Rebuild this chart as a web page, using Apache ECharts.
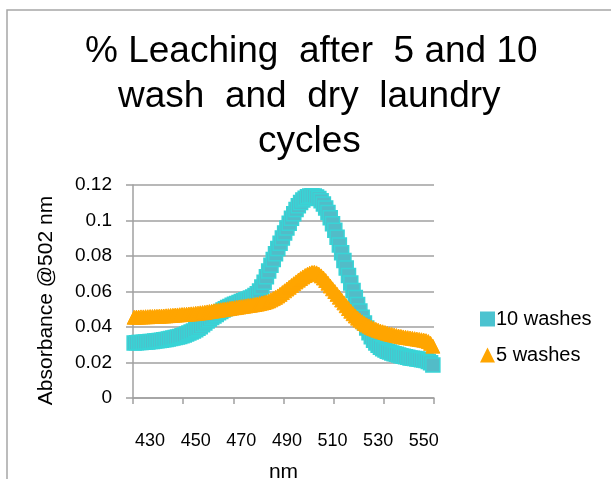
<!DOCTYPE html>
<html>
<head>
<meta charset="utf-8">
<script src="https://cdn.jsdelivr.net/npm/echarts@6/dist/echarts.min.js"></script>
<style>html,body{margin:0;padding:0;background:#fff}#c{width:611px;height:479px}</style>
</head>
<body>
<div id="c"></div>
<script>
const titleLines = ['% Leaching  after  5 and 10', 'wash  and  dry  laundry', 'cycles'];
const seriesNames = ['10 washes', '5 washes'];
const categories = ['423','424','425','426','427','428','429','430','431','432','433','434','435','436','437','438','439','440','441','442','443','444','445','446','447','448','449','450','451','452','453','454','455','456','457','458','459','460','461','462','463','464','465','466','467','468','469','470','471','472','473','474','475','476','477','478','479','480','481','482','483','484','485','486','487','488','489','490','491','492','493','494','495','496','497','498','499','500','501','502','503','504','505','506','507','508','509','510','511','512','513','514','515','516','517','518','519','520','521','522','523','524','525','526','527','528','529','530','531','532','533','534','535','536','537','538','539','540','541','542','543','544','545','546','547','548','549','550','551','552','553','554'];
const xTickLabels = ['430','450','470','490','510','530','550'];
const yTicks = [0, 0.02, 0.04, 0.06, 0.08, 0.1, 0.12];
const washes10 = [0.0310,0.0311,0.0312,0.0313,0.0314,0.0315,0.0316,0.0318,0.0319,0.0321,0.0322,0.0324,0.0326,0.0328,0.0330,0.0333,0.0335,0.0338,0.0341,0.0344,0.0347,0.0351,0.0355,0.0360,0.0366,0.0372,0.0378,0.0385,0.0393,0.0402,0.0412,0.0423,0.0434,0.0444,0.0453,0.0462,0.0471,0.0480,0.0488,0.0496,0.0503,0.0510,0.0516,0.0522,0.0528,0.0533,0.0538,0.0543,0.0548,0.0553,0.0558,0.0563,0.0569,0.0577,0.0588,0.0603,0.0625,0.0652,0.0683,0.0715,0.0748,0.0780,0.0812,0.0842,0.0872,0.0902,0.0930,0.0958,0.0985,0.1012,0.1038,0.1062,0.1083,0.1101,0.1115,0.1126,0.1134,0.1138,0.1140,0.1138,0.1133,0.1124,0.1111,0.1093,0.1071,0.1045,0.1015,0.0982,0.0945,0.0905,0.0862,0.0818,0.0775,0.0732,0.0690,0.0648,0.0606,0.0566,0.0527,0.0490,0.0455,0.0423,0.0394,0.0368,0.0345,0.0326,0.0310,0.0297,0.0286,0.0277,0.0270,0.0264,0.0259,0.0254,0.0250,0.0246,0.0242,0.0238,0.0235,0.0232,0.0229,0.0226,0.0224,0.0222,0.0220,0.0218,0.0216,0.0214,0.0211,0.0206,0.0198,0.0186];
const washes5 = [0.0455,0.0456,0.0456,0.0457,0.0457,0.0458,0.0458,0.0459,0.0459,0.0460,0.0460,0.0461,0.0462,0.0462,0.0463,0.0464,0.0465,0.0466,0.0467,0.0468,0.0469,0.0470,0.0471,0.0472,0.0473,0.0474,0.0475,0.0477,0.0478,0.0480,0.0481,0.0483,0.0485,0.0487,0.0489,0.0491,0.0493,0.0495,0.0497,0.0499,0.0501,0.0503,0.0505,0.0507,0.0509,0.0511,0.0513,0.0515,0.0517,0.0519,0.0521,0.0523,0.0525,0.0527,0.0529,0.0532,0.0535,0.0538,0.0542,0.0547,0.0553,0.0560,0.0567,0.0575,0.0584,0.0594,0.0604,0.0614,0.0624,0.0634,0.0644,0.0654,0.0664,0.0673,0.0682,0.0690,0.0697,0.0703,0.0707,0.0708,0.0705,0.0698,0.0688,0.0676,0.0662,0.0647,0.0631,0.0615,0.0600,0.0584,0.0568,0.0552,0.0536,0.0520,0.0504,0.0489,0.0475,0.0462,0.0450,0.0439,0.0429,0.0420,0.0412,0.0405,0.0398,0.0392,0.0387,0.0382,0.0377,0.0373,0.0369,0.0365,0.0361,0.0358,0.0355,0.0352,0.0349,0.0347,0.0344,0.0342,0.0340,0.0338,0.0336,0.0334,0.0332,0.0330,0.0328,0.0326,0.0323,0.0318,0.0308,0.0292];

const FONT = "'Liberation Sans', Arial, sans-serif";
const chart = echarts.init(document.getElementById('c'), null, {renderer: 'canvas'});
const titleStyle = {fontSize: 37, fontWeight: 'normal', color: '#000', fontFamily: FONT, lineHeight: 37};
chart.setOption({
  animation: false,
  backgroundColor: '#fff',
  graphic: [{
    type: 'rect', silent: true, z: -10,
    shape: {x: 7, y: 10, width: 800, height: 600},
    style: {fill: 'none', stroke: '#a6a6a6', lineWidth: 1.5}
  }],
  title: [
    {text: titleLines[0], left: 85, top: 33, padding: 0, textStyle: titleStyle},
    {text: titleLines[1], left: 118, top: 78, padding: 0, textStyle: titleStyle},
    {text: titleLines[2], left: 258, top: 123, padding: 0, textStyle: titleStyle}
  ],
  legend: {
    orient: 'vertical', left: 480, top: 309, padding: 0, itemWidth: 15, itemHeight: 15, itemGap: 16,
    textStyle: {fontSize: 20, color: '#000', fontFamily: FONT, padding: [0, 0, 0, -4]},
    data: [
      {name: seriesNames[0], icon: 'rect', itemStyle: {color: '#4bc3d0', borderWidth: 0}},
      {name: seriesNames[1], icon: 'triangle', itemStyle: {color: '#ffa500', borderWidth: 0}}
    ]
  },
  grid: {left: 133, right: 177, top: 185, bottom: 81, containLabel: false, outerBoundsMode: 'none'},
  xAxis: {
    type: 'category', data: categories, boundaryGap: true,
    name: 'nm', nameLocation: 'middle', nameGap: 64,
    nameTextStyle: {fontSize: 21, color: '#000', fontFamily: FONT},
    axisLine: {lineStyle: {color: '#a0a0a0', width: 1.5}},
    axisTick: {show: true, length: 6, interval: function (i) { return i % 22 === 0; }, lineStyle: {color: '#a0a0a0', width: 1.5}},
    axisLabel: {interval: function (i, v) { return xTickLabels.indexOf(v) >= 0; }, margin: 34, fontSize: 18, color: '#000', fontFamily: FONT},
    splitLine: {show: false}
  },
  yAxis: {
    type: 'value', min: yTicks[0], max: yTicks[yTicks.length - 1], interval: 0.02,
    name: 'Absorbance @502 nm', nameLocation: 'middle', nameGap: 76,
    nameTextStyle: {fontSize: 21, color: '#000', fontFamily: FONT, padding: [0, 18, 0, 0]},
    axisLine: {show: true, lineStyle: {color: '#a0a0a0', width: 1.5}},
    axisTick: {show: true, length: 7, lineStyle: {color: '#a0a0a0', width: 1.5}},
    axisLabel: {margin: 21, fontSize: 19, color: '#000', fontFamily: FONT,
      formatter: function (v) { return String(Math.round(v * 100) / 100); }},
    splitLine: {show: true, lineStyle: {color: '#a0a0a0', width: 1.5}}
  },
  series: [
    {name: seriesNames[0], type: 'scatter', data: washes10, symbol: 'rect', symbolSize: 14,
      itemStyle: {color: '#52bcc8', borderColor: '#38d4d6', borderWidth: 1.5, opacity: 1}},
    {name: seriesNames[1], type: 'scatter', data: washes5, symbol: 'triangle', symbolSize: 14,
      itemStyle: {color: '#ffa500', borderColor: '#ffa500', borderWidth: 1, opacity: 1}}
  ]
});
</script>
</body>
</html>
